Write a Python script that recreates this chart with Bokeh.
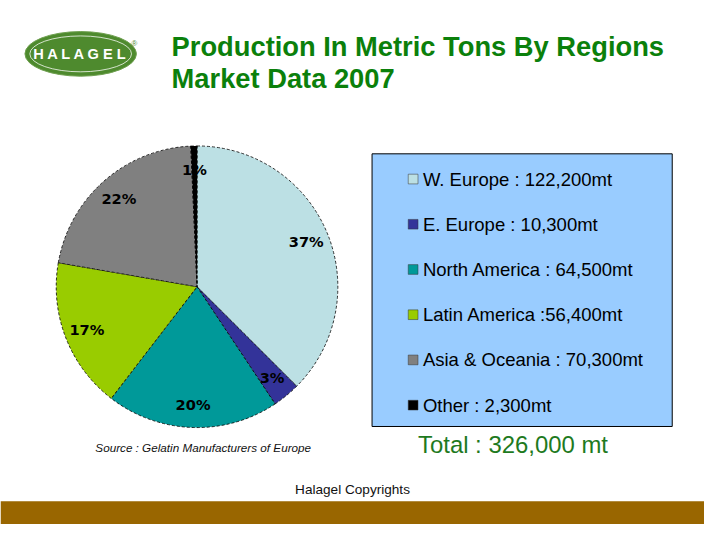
import math
from bokeh.plotting import figure
from bokeh.models import Range1d, ColumnDataSource
from bokeh.core.properties import value
from bokeh.embed import file_html
from bokeh.resources import INLINE

# ---- data ----
regions = ["W. Europe", "E. Europe", "North America", "Latin America", "Asia & Oceania", "Other"]
legend_names = ["W. Europe : ", "E. Europe : ", "North America : ", "Latin America :", "Asia & Oceania : ", "Other : "]
tons = [122200, 10300, 64500, 56400, 70300, 2300]
colors = ["#BCE0E4", "#333399", "#009999", "#99CC00", "#808080", "#000000"]
title_lines = ["Production In Metric Tons By Regions", "Market Data 2007"]
source_text = "Source : Gelatin Manufacturers of Europe"
total_text = "Total : 326,000 mt"
footer_text = "Halagel Copyrights"

W, H = 704, 524
K = 0.974  # font scale (figure is the 720x540 slide shrunk to fit)
def fs(px):
    return f"{px * K:.1f}px"
def Y(py):  # slide pixel y -> data y
    return 540 - py

p = figure(width=W, height=H, output_backend="svg", toolbar_location=None,
           x_range=Range1d(0, 720), y_range=Range1d(0, 540), min_border=0)
p.axis.visible = False
p.grid.visible = False
p.outline_line_color = None
p.background_fill_color = "white"
p.border_fill_color = "white"

# ---- logo ----
p.ellipse(x=[82], y=[Y(55)], width=114, height=46, fill_color="#4E8A2E", line_color="#6FA050", line_width=1)
p.ellipse(x=[82], y=[Y(55)], width=104, height=37, fill_color=None, line_color="white", line_width=1, line_alpha=0.75)
p.text(x=[82], y=[Y(55)], text=["H A L A G E L"], text_color="white", text_font=value("Liberation Sans"),
       text_font_style="bold", text_font_size=fs(15), text_align="center", text_baseline="middle")
p.text(x=[137], y=[Y(44)], text=["®"], text_color="#4E8A2E", text_font=value("Liberation Sans"),
       text_font_size=fs(8), text_align="center", text_baseline="middle")

# ---- title ----
p.text(x=[175, 175], y=[Y(47), Y(80)], text=title_lines, text_color="#0B800B",
       text_font=value("Liberation Sans"), text_font_style="bold", text_font_size=fs(28),
       text_align="left", text_baseline="middle")

# ---- pie ----
total = sum(tons)
cx, cy, r = 201, Y(295), 144
starts, ends, lx, ly, pct = [], [], [], [], []
c = 0.0
for v in tons:
    f0 = c / total
    c += v
    f1 = c / total
    a0 = math.pi / 2 - 2 * math.pi * f0
    a1 = math.pi / 2 - 2 * math.pi * f1
    starts.append(a0)
    ends.append(a1)
    am = (a0 + a1) / 2
    lx.append(cx + 0.84 * r * math.cos(am))
    ly.append(cy + 0.84 * r * math.sin(am))
    pct.append(f"{round(v / total * 100)}%")

src = ColumnDataSource(dict(start=starts, end=ends, color=colors))
p.wedge(x=cx, y=cy, radius=r, start_angle="start", end_angle="end", direction="clock",
        fill_color="color", line_color="black", line_width=0.8, line_dash="3 2", source=src)
p.text(x=lx, y=ly, text=pct, text_color="black", text_font=value("DejaVu Sans"), text_font_style="bold",
       text_font_size=fs(15), text_align="center", text_baseline="middle")

# ---- legend box ----
p.quad(left=[380], right=[687], top=[Y(158)], bottom=[Y(439)], fill_color="#99CCFF", line_color="black", line_width=1)
row_y = [Y(184 + i * 46.6) for i in range(len(tons))]
p.rect(x=[422] * len(tons), y=row_y, width=10, height=10, fill_color=colors, line_color="#333333", line_width=0.5)
labels = [f"{n}{v:,}mt" for n, v in zip(legend_names, tons)]
p.text(x=[432] * len(tons), y=row_y, text=labels, text_color="black", text_font=value("Liberation Sans"),
       text_font_size=fs(19), text_align="left", text_baseline="middle")

# ---- footer texts ----
p.text(x=[97], y=[Y(461)], text=[source_text], text_color="#111111", text_font=value("Liberation Sans"),
       text_font_style="italic", text_font_size=fs(12), text_align="left", text_baseline="middle")
p.text(x=[427], y=[Y(458)], text=[total_text], text_color="#1E7A1E", text_font=value("Liberation Sans"),
       text_font_size=fs(24.5), text_align="left", text_baseline="middle")
p.text(x=[360], y=[Y(504)], text=[footer_text], text_color="#111111", text_font=value("Liberation Sans"),
       text_font_size=fs(14), text_align="center", text_baseline="middle")

# ---- bottom bar ----
p.quad(left=[0], right=[720], top=[Y(516)], bottom=[0], fill_color="#996600", line_color=None)

open("out.html", "w").write(file_html(p, INLINE))
